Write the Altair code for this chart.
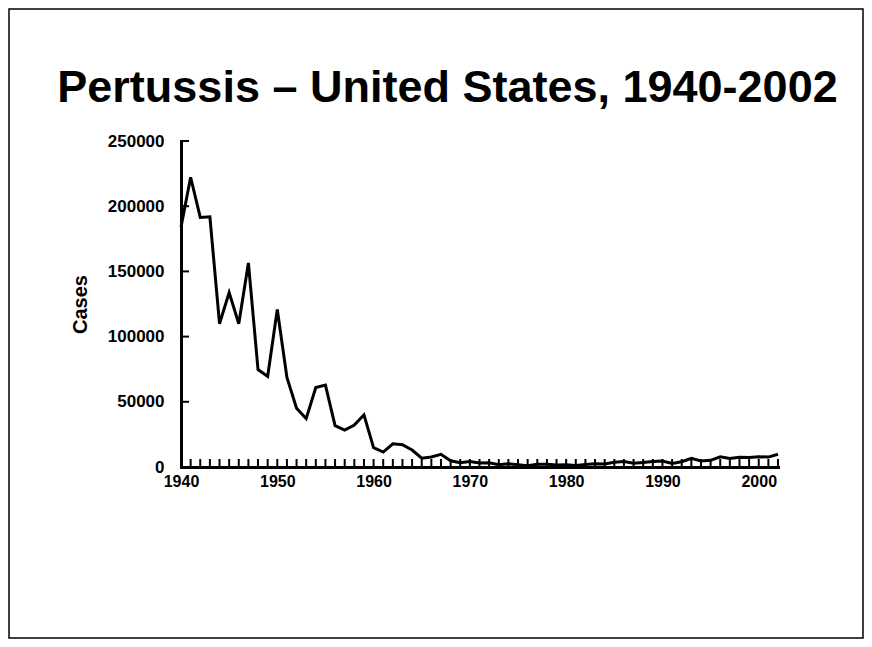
import altair as alt
import pandas as pd

years = list(range(1940, 2003))
cases = [
    183866, 222202, 191383, 191890, 109873, 133792, 109860, 156517, 74715, 69479,
    120718, 68687, 45030, 37129, 60886, 62786, 31732, 28295, 32148, 40005,
    14809, 11468, 17749, 17135, 13005, 6799, 7717, 9718, 4810, 3285,
    4249, 3036, 3287, 1759, 2402, 1738, 1010, 2177, 2063, 1623,
    1730, 1248, 1895, 2463, 2276, 3589, 4195, 2823, 3450, 4157,
    4570, 2719, 4083, 6586, 4617, 5137, 7796, 6564, 7405, 7288,
    7867, 7580, 9771,
]
x_label_values = [1940, 1950, 1960, 1970, 1980, 1990, 2000]
y_tick_values = [0, 50000, 100000, 150000, 200000, 250000]
minor_years = list(range(1941, 2003))

FONT = "Liberation Sans"
W, H = 597, 326
PAD = {"left": 173, "top": 133, "right": 86, "bottom": 172}

df = pd.DataFrame({"year": years, "cases": cases})
df_xt = pd.DataFrame({"year": minor_years})
df_yt = pd.DataFrame({"cases": y_tick_values[1:]})

x_scale = alt.Scale(domain=[1940, 2002], nice=False, zero=False)
y_scale = alt.Scale(domain=[0, 250000], nice=False)

x_axis = alt.Axis(values=x_label_values, format="d", title=None, ticks=False,
                  grid=False, domainColor="black", domainWidth=3, domainCap="square",
                  labelFont=FONT, labelFontWeight="bold", labelFontSize=16,
                  labelColor="black", labelPadding=6, labelFlush=False)
y_axis = alt.Axis(values=y_tick_values, format="d", title="Cases", ticks=False,
                  grid=False, domainColor="black", domainWidth=3, domainCap="square",
                  labelFont=FONT, labelFontWeight="bold", labelFontSize=17,
                  labelColor="black", labelPadding=17, labelFlush=False,
                  titleFont=FONT, titleFontWeight="bold", titleFontSize=20,
                  titleColor="black", titlePadding=17)

line = alt.Chart(df).mark_line(color="black", strokeWidth=3).encode(
    x=alt.X("year:Q", scale=x_scale, axis=x_axis),
    y=alt.Y("cases:Q", scale=y_scale, axis=y_axis),
)

xticks = alt.Chart(df_xt).mark_tick(color="black", opacity=1, thickness=2, size=8,
                                    orient="vertical").encode(
    x=alt.X("year:Q", scale=x_scale, axis=x_axis),
    y=alt.YDatum(0, scale=y_scale, axis=y_axis),
    yOffset=alt.value(-4),
)

yticks = alt.Chart(df_yt).mark_tick(color="black", opacity=1, thickness=2, size=8,
                                    orient="horizontal").encode(
    y=alt.Y("cases:Q", scale=y_scale, axis=y_axis),
    x=alt.XDatum(1940, scale=x_scale, axis=x_axis),
    xOffset=alt.value(4),
)

# decorative frame around the whole figure (slide border)
frame = alt.Chart(pd.DataFrame({"f": [0]})).mark_rect(
    fill=None, stroke="black", strokeWidth=1.5
).encode(
    x=alt.value(-PAD["left"] + 1),
    x2=alt.value(W + PAD["right"] - 1),
    y=alt.value(-PAD["top"] + 1),
    y2=alt.value(H + PAD["bottom"] - 1),
)

chart = alt.layer(frame, line, xticks, yticks).properties(
    width=W,
    height=H,
    background="white",
    padding=PAD,
    autosize=alt.AutoSizeParams(type="none"),
    title=alt.TitleParams(
        "Pertussis – United States, 1940-2002",
        font=FONT, fontWeight="bold", fontSize=45, color="black",
        anchor="middle", dx=-32, offset=0, dy=103,
    ),
).configure_view(stroke=None)

chart.save("out.html", embed_options={"renderer": "svg", "actions": False})
